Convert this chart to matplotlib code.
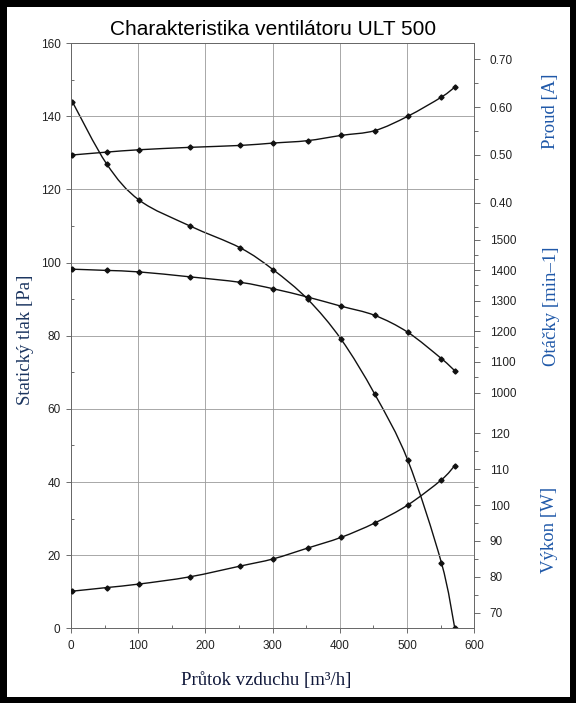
import matplotlib
matplotlib.use('Agg')
import matplotlib.pyplot as plt
from matplotlib.path import Path
from matplotlib.patches import PathPatch
from matplotlib.ticker import FormatStrFormatter
import numpy as np

# data
flow = [2, 53, 102, 177, 252, 301, 352, 402, 452, 501, 551, 571]
pressure = [144, 127, 117, 110, 104, 98, 90, 79, 64, 46, 18, 0]
current = [0.500, 0.506, 0.511, 0.516, 0.520, 0.525, 0.530, 0.541, 0.551, 0.581, 0.621, 0.642]
rpm = [1403, 1399, 1394, 1378, 1360, 1339, 1312, 1282, 1252, 1197, 1111, 1071]
power = [76, 77, 78, 80, 83, 85, 88, 91, 95, 100, 107, 111]

current_ticks = [0.40, 0.50, 0.60, 0.70]
rpm_ticks = [1000, 1100, 1200, 1300, 1400, 1500]
power_ticks = [70, 80, 90, 100, 110, 120]

plt.rcParams['font.family'] = ['Liberation Sans', 'DejaVu Sans']
SERIF = ['Liberation Serif', 'DejaVu Serif']
W, H = 576, 703


def smooth_line(ax, xs, ys):
    # excel-like smoothed line (catmull-rom as cubic bezier) + diamond markers
    pts = np.column_stack([xs, ys]).astype(float)
    n = len(pts)
    verts = [pts[0]]
    codes = [Path.MOVETO]
    for i in range(n - 1):
        p0 = pts[max(i - 1, 0)]
        p1 = pts[i]
        p2 = pts[i + 1]
        p3 = pts[min(i + 2, n - 1)]
        verts += [p1 + (p2 - p0) / 6, p2 - (p3 - p1) / 6, p2]
        codes += [Path.CURVE4] * 3
    ax.add_patch(PathPatch(Path(verts, codes), fill=False, lw=1.0, edgecolor='#111111'))
    ax.plot(xs, ys, ls='none', marker='D', ms=2.6, color='#111111')


def right_axis(ax, lims, major, minor, fmt):
    tw = ax.twinx()
    tw.set_ylim(*lims)
    for s in tw.spines.values():
        s.set_visible(False)
    tw.set_yticks(major)
    tw.set_yticks(minor, minor=True)
    tw.yaxis.set_major_formatter(FormatStrFormatter(fmt))
    tw.tick_params(which='major', direction='out', length=4, width=0.6, color='#555555',
                   pad=7, labelsize=8.5, labelcolor='#222222')
    tw.tick_params(which='minor', direction='out', length=3, width=0.6, color='#555555')
    return tw


fig = plt.figure(figsize=(W / 100, H / 100), dpi=100)
fig.patch.set_edgecolor('black')
fig.patch.set_linewidth(8)

ax = fig.add_axes([70.9 / W, 1 - 628.4 / H, (474.3 - 70.9) / W, (628.4 - 43.0) / H])
ax.set_xlim(0, 600)
ax.set_ylim(0, 160)
ax.set_xticks(range(0, 601, 100))
ax.set_xticks(range(50, 600, 100), minor=True)
ax.set_yticks(range(0, 161, 20))
ax.set_yticks(range(10, 160, 20), minor=True)
ax.grid(True, which='major', color='#9a9a9a', lw=0.6)
for s in ax.spines.values():
    s.set_color('#666666')
    s.set_linewidth(0.7)
ax.tick_params(which='major', direction='out', length=3.5, width=0.6, color='#555555',
               labelsize=8.5, labelcolor='#222222')
ax.tick_params(axis='y', which='major', pad=4)
ax.tick_params(axis='x', which='major', pad=5)
ax.tick_params(which='minor', direction='in', length=2.5, width=0.6, color='#555555')

smooth_line(ax, flow, pressure)

ax_i = right_axis(ax, (-0.4904, 0.7343), current_ticks, [0.35, 0.45, 0.55, 0.65], '%.2f')
smooth_line(ax_i, flow, current)

ax_n = right_axis(ax, (229.1, 2142.2), rpm_ticks, list(range(1050, 1500, 100)), '%d')
smooth_line(ax_n, flow, rpm)

ax_p = right_axis(ax, (65.63, 228.7), power_ticks, [75, 85, 95, 105, 115], '%d')
smooth_line(ax_p, flow, power)

fig.text(272.6 / W, 1 - 34.7 / H, 'Charakteristika ventilátoru ULT 500',
         ha='center', va='baseline', fontsize=15, color='black')

fig.text(26 / W, 1 - 340 / H, 'Statický tlak [Pa]', rotation=90, ha='center', va='center',
         family=SERIF, fontsize=13.5, color='#1b3560')
fig.text(266.5 / W, 1 - 680 / H, 'Průtok vzduchu [m³/h]', ha='center', va='center',
         family=SERIF, fontsize=13.5, color='#10183a')
fig.text(550 / W, 1 - 111 / H, 'Proud [A]', rotation=90, ha='center', va='center',
         family=SERIF, fontsize=13.5, color='#1f58a8')
fig.text(552 / W, 1 - 306 / H, 'Otáčky [min–1]', rotation=90, ha='center', va='center',
         family=SERIF, fontsize=13.5, color='#1f58a8')
fig.text(549 / W, 1 - 530 / H, 'Výkon [W]', rotation=90, ha='center', va='center',
         family=SERIF, fontsize=13.5, color='#1f58a8')

fig.savefig('out.png', dpi=100)
